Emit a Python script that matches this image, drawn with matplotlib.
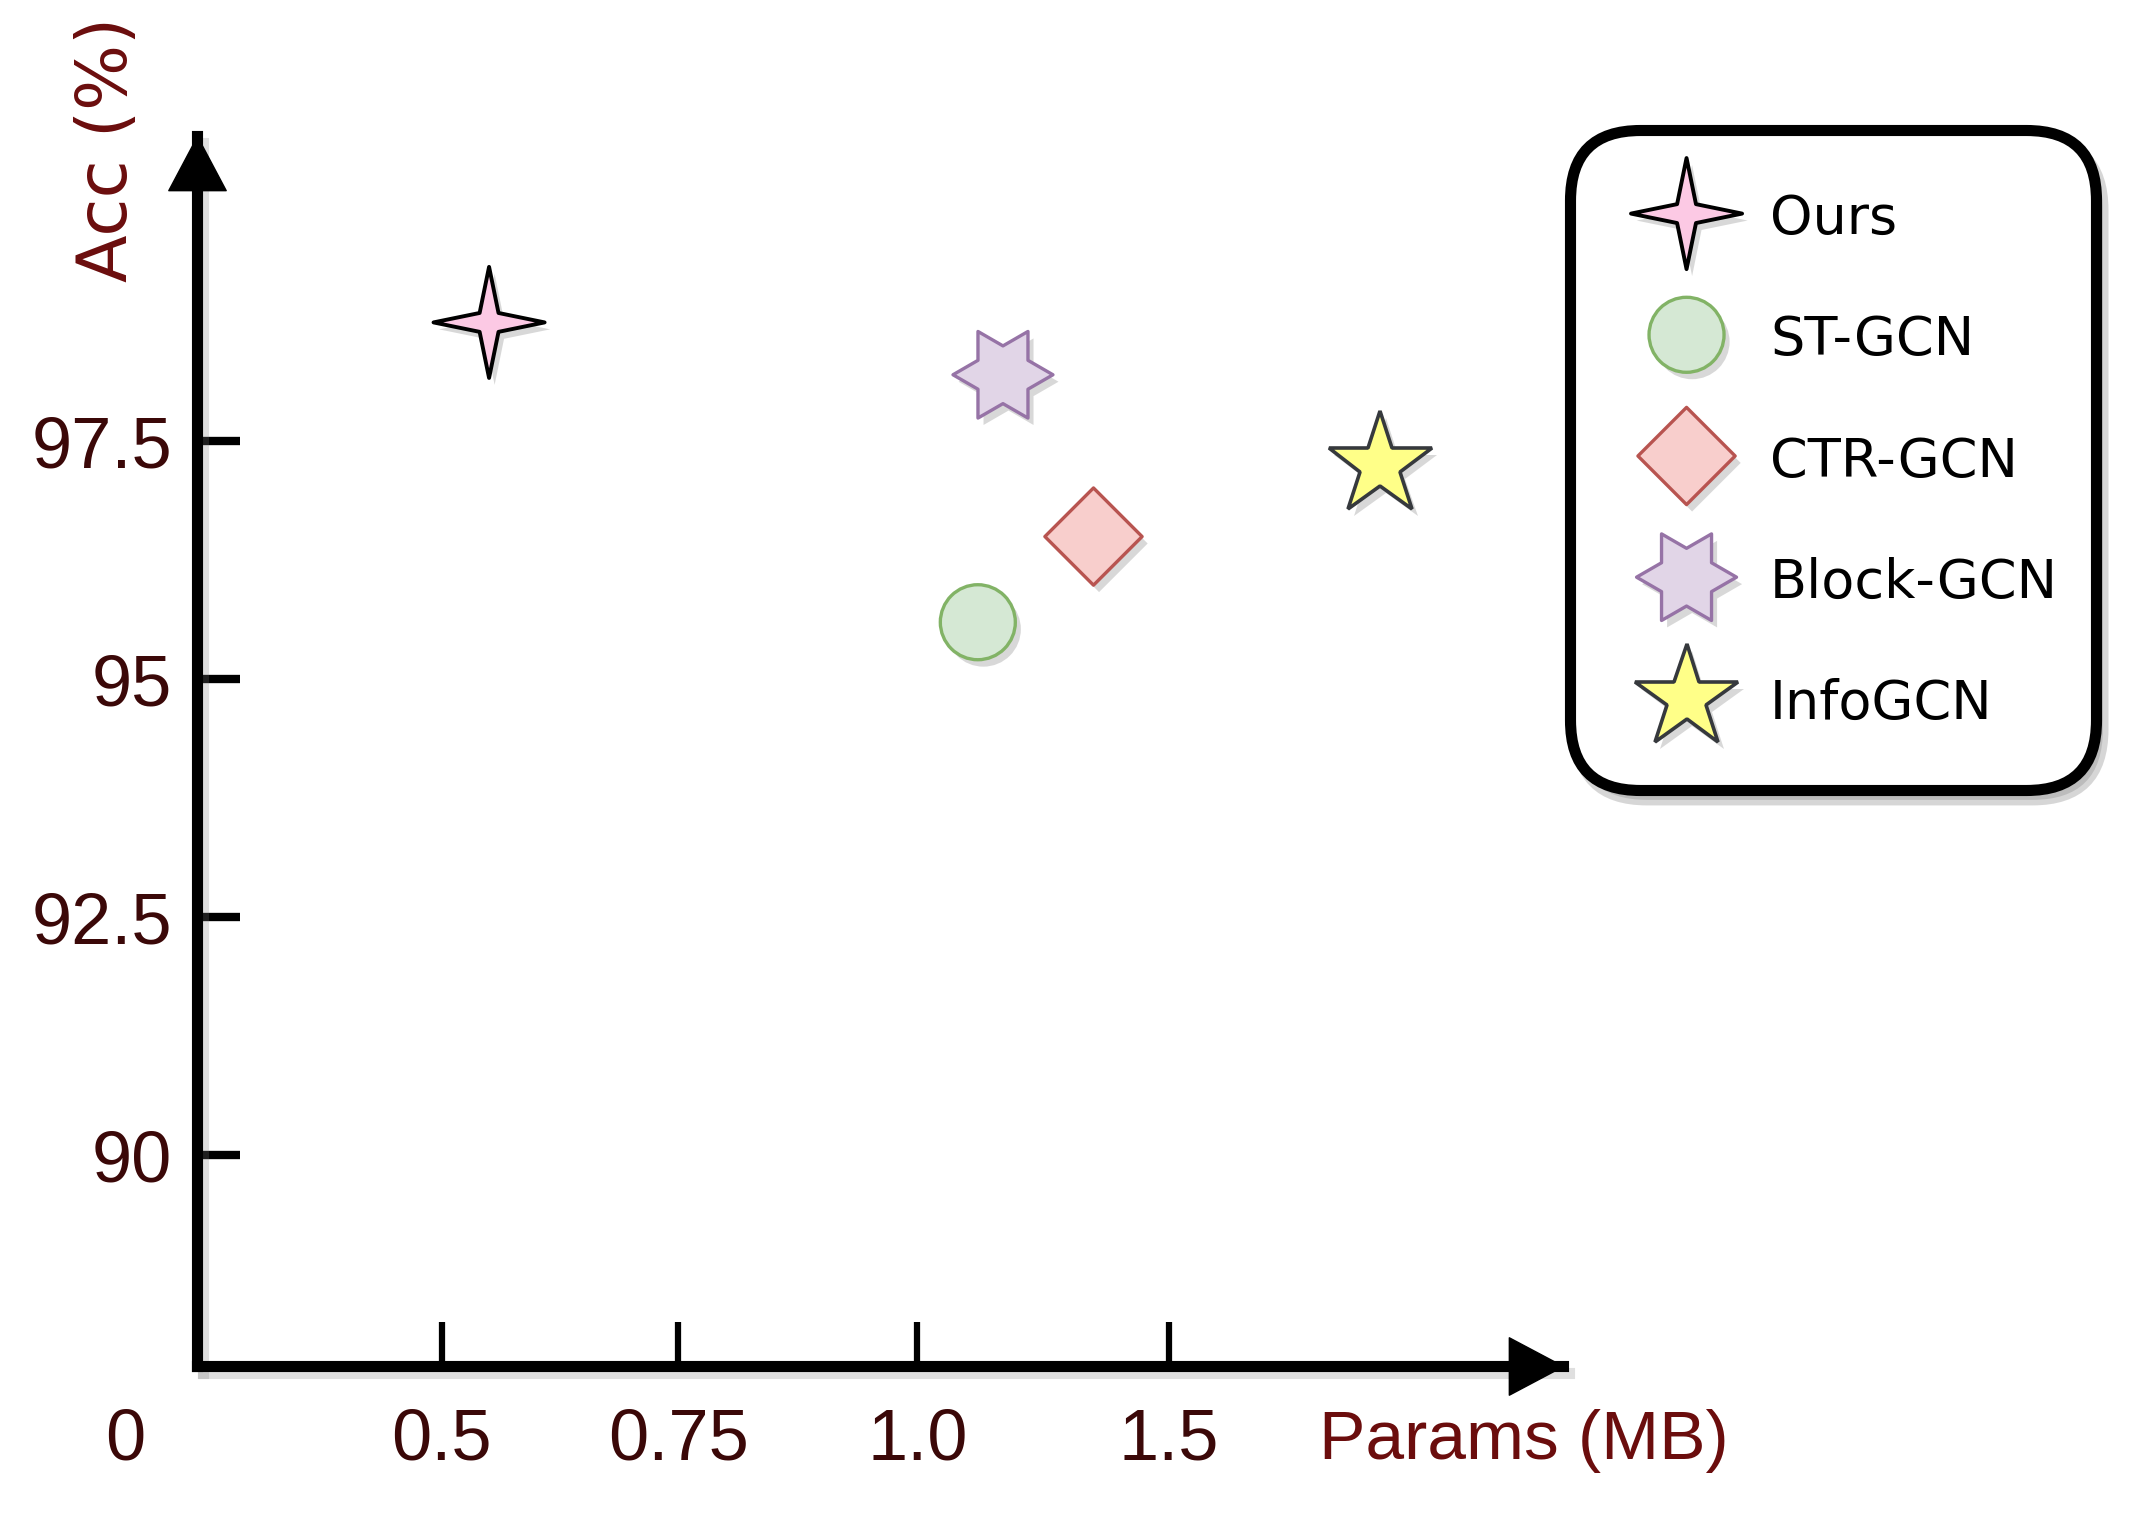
import numpy as np
import matplotlib
matplotlib.use('Agg')
import matplotlib.pyplot as plt
import matplotlib.patheffects as pe
from matplotlib.path import Path

plt.rcParams['font.family'] = ['Liberation Sans', 'DejaVu Sans']

# values
models = ['Ours', 'ST-GCN', 'CTR-GCN', 'Block-GCN', 'InfoGCN']
params_mb = [0.55, 1.12, 1.35, 1.17, 1.92]
acc = [98.75, 95.6, 96.5, 98.2, 97.25]

x_ticks = [0.5, 0.75, 1.0, 1.5]
x_tick_labels = ['0.5', '0.75', '1.0', '1.5']
y_ticks = [90, 92.5, 95, 97.5]
y_tick_labels = ['90', '92.5', '95', '97.5']

# the x axis of the original is not linear (ticks spaced almost evenly),
# so use a piecewise linear scale
_xv = [-1.0, 0.0, 0.5, 0.75, 1.0, 1.5, 2.0, 3.0]
_xp = [-360.0, 0.0, 180.0, 354.0, 530.0, 715.0, 900.0, 1270.0]


def x_fwd(v):
    return np.interp(v, _xv, _xp)


def x_inv(p):
    return np.interp(p, _xp, _xv)


# custom marker shapes
def four_star(c=0.17):
    verts = [(0, 1), (c, c), (1, 0), (c, -c), (0, -1),
             (-c, -c), (-1, 0), (-c, c), (0, 1)]
    return Path(verts, closed=True)


def hexagram():
    pts = []
    for k in range(12):
        ang = np.deg2rad(30 * k)
        r = 1.0 if k % 2 == 0 else 1 / np.sqrt(3)
        pts.append((r * np.cos(ang), r * np.sin(ang)))
    pts.append(pts[0])
    return Path(pts, closed=True)


diamond = Path([(0, 1), (1, 0), (0, -1), (-1, 0), (0, 1)], closed=True)
arrow_up = Path([(0, 0), (0.53, -1), (-0.53, -1), (0, 0)], closed=True)
arrow_right = Path([(0, 0), (-1, 0.53), (-1, -0.53), (0, 0)], closed=True)

styles = {
    'Ours': dict(marker=four_star(), ms=80, mfc='#fcc9e4', mec='black', mew=2.8),
    'ST-GCN': dict(marker='o', ms=54, mfc='#d5e8d4', mec='#82b366', mew=2.4),
    'CTR-GCN': dict(marker=diamond, ms=70, mfc='#f8cecc', mec='#b85450', mew=2.4),
    'Block-GCN': dict(marker=hexagram(), ms=72, mfc='#e1d5e7', mec='#9673a6', mew=2.4),
    'InfoGCN': dict(marker='*', ms=78, mfc='#ffff88', mec='#36393d', mew=2.6),
}

shadow = [pe.SimplePatchShadow(offset=(4, -5), shadow_rgbFace='gray', alpha=0.3),
          pe.Normal()]

fig = plt.figure(figsize=(21.31, 15.13), dpi=100)
ax = fig.add_axes([0.0925, 0.0972, 0.641, 0.813])

ax.set_xscale('function', functions=(x_fwd, x_inv))
ax.set_xlim(0, float(x_inv(1005.0)))
ax.set_ylim(87.786, 100.71)

for name, x, y in zip(models, params_mb, acc):
    ax.plot([x], [y], linestyle='none', label=name, zorder=5,
            path_effects=shadow, **styles[name])

for side in ['top', 'right']:
    ax.spines[side].set_visible(False)
for side in ['left', 'bottom']:
    ax.spines[side].set_linewidth(8)
    ax.spines[side].set_path_effects(
        [pe.SimpleLineShadow(offset=(4, -5), shadow_color='gray', alpha=0.25), pe.Normal()])

ax.plot([0], [1], marker=arrow_up, ms=78, color='black', transform=ax.transAxes,
        clip_on=False, zorder=6)
ax.plot([1], [0], marker=arrow_right, ms=78, color='black', transform=ax.transAxes,
        clip_on=False, zorder=6)

tick_color = '#3b0808'
label_color = '#6b0d0d'

ax.set_xticks(x_ticks)
ax.set_xticklabels(x_tick_labels)
ax.set_yticks(y_ticks)
ax.set_yticklabels(y_tick_labels)
ax.minorticks_off()
ax.tick_params(axis='y', direction='in', length=31, width=6, pad=18,
               labelsize=52, labelcolor=tick_color)
ax.tick_params(axis='x', direction='in', length=32, width=4.5, pad=30,
               labelsize=52, labelcolor=tick_color)

ax.annotate('0', xy=(0, 0), xycoords='axes fraction', xytext=(-52, -30),
            textcoords='offset points', ha='center', va='top', fontsize=52,
            color=tick_color)

fig.text(107 / 2131, 0.9015, 'Acc (%)', rotation=90, ha='center', va='center',
         fontsize=50, color=label_color, family=['DejaVu Sans'])
fig.text(0.715, 0.069, 'Params (MB)', ha='center', va='top', fontsize=50,
         color=label_color)

leg = ax.legend(loc='upper right', bbox_to_anchor=(2096 / 2131, 1 - 130 / 1513),
                bbox_transform=fig.transFigure, borderaxespad=0,
                prop={'family': 'DejaVu Sans', 'size': 39},
                borderpad=0.7, labelspacing=0.4, handlelength=2.92,
                handleheight=2.45, handletextpad=0.08, numpoints=1,
                frameon=True, fancybox=True, edgecolor='black', framealpha=1,
                shadow={'ox': 5, 'oy': -7, 'color': '0.55', 'alpha': 0.35})
frame = leg.get_frame()
frame.set_linewidth(8)
frame.set_boxstyle('round', pad=0, rounding_size=1.3)
# line the legend markers up with the middle of their labels
for line in leg.get_lines():
    line.set_ydata(np.asarray(line.get_ydata()) - 9)

fig.savefig('out.png', dpi=100)
